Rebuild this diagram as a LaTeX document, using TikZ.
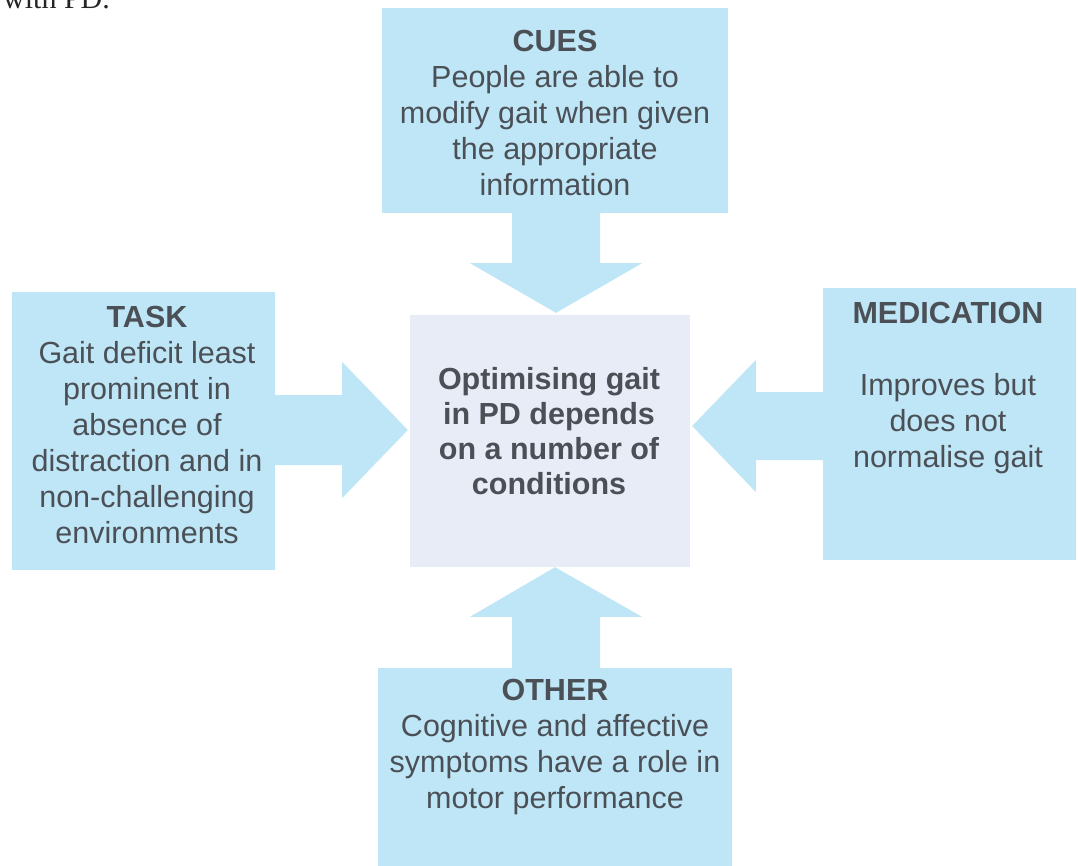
\documentclass[tikz,border=0pt]{standalone}
\usepackage{fontspec}
\setmainfont{Liberation Sans}
\newfontfamily\serifpd{Liberation Serif}
\usetikzlibrary{calc}
\definecolor{blk}{HTML}{BFE6F6}
\definecolor{ctr}{HTML}{E7ECF7}
\definecolor{txt}{HTML}{4B5057}
\begin{document}
\begin{tikzpicture}[x=1pt,y=-1pt,
  box/.style={fill=blk, draw=none, inner sep=0pt},
  ctrbox/.style={fill=ctr, draw=none, inner sep=0pt},
  lbl/.style={align=center, text=txt, inner sep=0pt, font=\fontsize{30.5pt}{36pt}\selectfont},
  clbl/.style={align=center, text=txt, inner sep=0pt, font=\bfseries\fontsize{30.5pt}{35pt}\selectfont},
  blockarrow/.style={fill=blk, draw=none}]
\useasboundingbox (0,0) rectangle (1078,866);
\clip (0,0) rectangle (1078,866);
\fill[white] (0,0) rectangle (1078,866);

% boxes
\node[box, minimum width=346pt, minimum height=205pt] (cues) at (555,110.5) {};
\node[box, minimum width=263pt, minimum height=278pt] (task) at (143.5,431) {};
\node[box, minimum width=253pt, minimum height=272pt] (med) at (949.5,424) {};
\node[box, minimum width=354pt, minimum height=210pt] (other) at (555,773) {};
\node[ctrbox, minimum width=280pt, minimum height=252pt] (center) at (550,441) {};

% block arrows
\fill[blockarrow] ($(cues.south)+(-43,-1)$) -- ++(0,51) -- ++(-42,0)
  -- ($(center.north)+(6,-2)$) -- ($(cues.south)+(87,50)$) -- ++(-42,0) -- ++(0,-51) -- cycle;
\fill[blockarrow] ($(other.north)+(-43,1)$) -- ++(0,-52) -- ++(-42,0)
  -- ($(center.south)+(5,0)$) -- ($(other.north)+(87,-51)$) -- ++(-42,0) -- ++(0,52) -- cycle;
\fill[blockarrow] ($(task.east)+(-1,-36)$) -- ++(68,0) -- ++(0,-33)
  -- ($(center.west)+(-2,-11)$) -- ($(task.east)+(67,67)$) -- ++(0,-33) -- ++(-68,0) -- cycle;
\fill[blockarrow] ($(med.west)+(1,-32)$) -- ++(-68,0) -- ++(0,-32)
  -- ($(center.east)+(2,-15)$) -- ($(med.west)+(-67,68)$) -- ++(0,-32) -- ++(68,0) -- cycle;

% texts
\node[lbl] (cuesT) at (555,113) {\textbf{CUES}\\People are able to\\modify gait when given\\the appropriate\\information};
\node[lbl] (taskT) at (147,424.5) {\textbf{TASK}\\Gait deficit least\\prominent in\\absence of\\distraction and in\\non-challenging\\environments};
\node[clbl] (centerT) at (549,431) {Optimising gait\\in PD depends\\on a number of\\conditions};
\node[lbl] (medT) at (948,388.5) {\textbf{MEDICATION}\\[36pt]Improves but\\does not\\normalise gait};
\node[lbl] (otherT) at (555,747) {\textbf{OTHER}\\Cognitive and affective\\symptoms have a role in\\motor performance};

% cropped caption fragment
\node[anchor=base west, inner sep=0pt, text=black!85, font=\serifpd\fontsize{30pt}{36pt}\selectfont] (frag) at (3,9) {with PD.};
\end{tikzpicture}
\end{document}
